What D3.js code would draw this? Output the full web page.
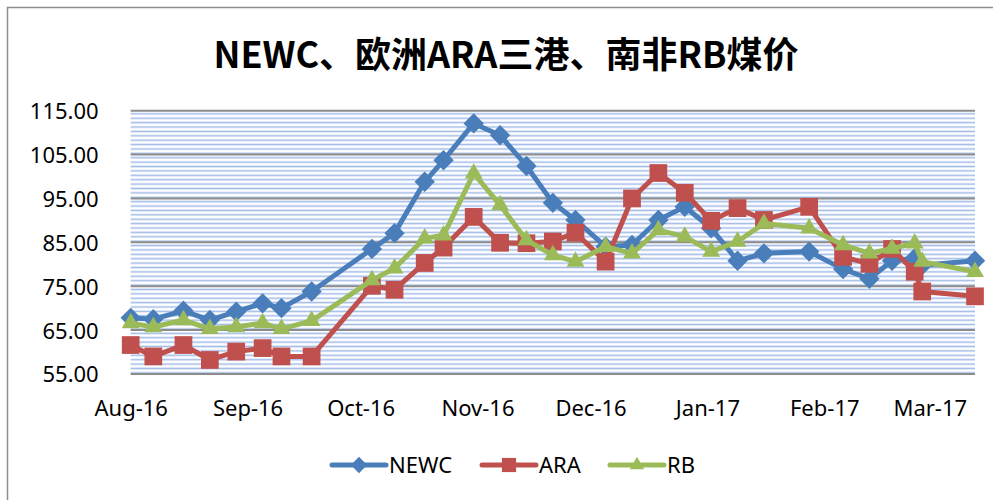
<!DOCTYPE html>
<html lang="zh">
  <head>
    <meta charset="UTF-8" />
    <title>NEWC、欧洲ARA三港、南非RB煤价</title>
    <script src="https://d3js.org/d3.v7.min.js"></script>
    <style>
      body {
        margin: 0;
        background: #fff;
      }
      svg {
        display: block;
      }
      .tick-label,
      .legend-label {
        font-family: "Noto Sans", "Open Sans", sans-serif;
        font-size: 22px;
        fill: #000;
      }
      .title {
        font-family: "Noto Sans CJK SC", sans-serif;
        font-weight: bold;
        font-size: 36px;
        fill: #000;
      }
    </style>
  </head>
  <body>
    <svg width="993" height="500"></svg>
    <script>
      const dates = [
        "2016-08-01", "2016-08-07", "2016-08-15", "2016-08-22", "2016-08-29",
        "2016-09-05", "2016-09-10", "2016-09-18", "2016-10-04", "2016-10-10",
        "2016-10-18", "2016-10-23", "2016-10-31", "2016-11-07", "2016-11-14",
        "2016-11-21", "2016-11-27", "2016-12-05", "2016-12-12", "2016-12-19",
        "2016-12-26", "2017-01-02", "2017-01-09", "2017-01-16", "2017-01-28",
        "2017-02-06", "2017-02-13", "2017-02-19", "2017-02-25", "2017-02-27",
        "2017-03-13"
      ];

      const newc = [
        67.8, 67.5, 69.4, 67.3, 69.2, 71.1, 70.0, 73.8, 83.5, 87.1,
        98.8, 103.7, 112.1, 109.4, 102.4, 94.0, 90.1, 84.0, 84.4, 90.1,
        93.1, 88.2, 80.8, 82.5, 82.9, 78.9, 76.7, 80.8, 81.4, 79.8,
        80.8
      ];
      const ara = [
        61.6, 59.0, 61.6, 58.2, 60.1, 60.9, 59.0, 59.0, 75.1, 74.2,
        80.3, 83.8, 90.8, 84.9, 84.8, 85.2, 87.2, 80.6, 95.0, 100.8,
        96.3, 89.9, 92.8, 90.1, 93.1, 81.7, 80.1, 83.5, 78.3, 73.8,
        72.7
      ];
      const rb = [
        66.6, 65.7, 67.3, 65.3, 65.7, 66.6, 65.3, 67.1, 76.4, 79.1,
        85.9, 86.6, 100.7, 93.5, 85.5, 82.1, 80.6, 84.0, 82.5, 87.8,
        86.3, 82.9, 85.2, 89.3, 88.2, 84.4, 82.5, 83.6, 84.8, 80.6,
        78.3
      ];

      const yTicks = [55, 65, 75, 85, 95, 105, 115];
      const axisStart = "2016-08-01";
      const axisEnd = "2017-03-13";
      const titleText = "NEWC、欧洲ARA三港、南非RB煤价";

      const seriesList = [
        { name: "NEWC", values: newc, color: "#4a7ebb", shape: "diamond" },
        { name: "ARA", values: ara, color: "#c0504d", shape: "square" },
        { name: "RB", values: rb, color: "#9bbb59", shape: "triangle" }
      ];

      const parse = d3.timeParse("%Y-%m-%d");
      const margin = { top: 110.7, right: 18, bottom: 126, left: 130.7 };
      const W = 993, H = 500;
      const width = W - margin.left - margin.right;
      const height = H - margin.top - margin.bottom;

      const svg = d3.select("svg");

      // chart frame (only top/left edges fall inside the picture)
      svg.append("rect")
        .attr("x", 7.5).attr("y", 7.5)
        .attr("width", 995).attr("height", 500)
        .attr("fill", "none")
        .attr("stroke", "#8e8e8e")
        .attr("stroke-width", 1.5);

      // hatch pattern for plot area
      const defs = svg.append("defs");
      const pat = defs.append("pattern")
        .attr("id", "hatch")
        .attr("patternUnits", "userSpaceOnUse")
        .attr("width", 8)
        .attr("height", 4.39)
        .attr("y", margin.top);
      pat.append("rect")
        .attr("x", 0).attr("y", 1.4)
        .attr("width", 8).attr("height", 1.6)
        .attr("fill", "#a3bde8");

      const g = svg.append("g")
        .attr("transform", `translate(${margin.left},${margin.top})`);

      const x = d3.scaleTime()
        .domain([parse(axisStart), parse(axisEnd)])
        .range([0, width]);

      const y = d3.scaleLinear()
        .domain([55, 115])
        .range([height, 0]);

      g.append("rect")
        .attr("width", width)
        .attr("height", height)
        .attr("fill", "url(#hatch)");

      // major gridlines
      g.selectAll(".grid")
        .data(yTicks)
        .enter()
        .append("line")
        .attr("class", "grid")
        .attr("x1", 0).attr("x2", width)
        .attr("y1", (d) => y(d)).attr("y2", (d) => y(d))
        .attr("stroke", "#8c8c8c")
        .attr("stroke-width", 2);

      // y axis labels
      const yAxis = g.append("g")
        .call(d3.axisLeft(y).tickValues(yTicks).tickFormat(d3.format(".2f")).tickSize(0).tickPadding(32));
      yAxis.select(".domain").remove();
      yAxis.selectAll("text")
        .attr("class", "tick-label")
        .attr("dy", "0.36em")
        .attr("font-family", null)
        .attr("font-size", null);

      // x axis labels
      const xAxis = g.append("g")
        .attr("transform", `translate(0,${height})`)
        .call(d3.axisBottom(x).ticks(d3.timeMonth.every(1)).tickFormat(d3.timeFormat("%b-%y")).tickSize(0).tickPadding(26));
      xAxis.select(".domain").remove();
      xAxis.selectAll("text")
        .attr("class", "tick-label")
        .attr("font-family", null)
        .attr("font-size", null);

      function marker(shape, s) {
        if (shape === "diamond") return d3.symbol(d3.symbolDiamond2, s * s * 0.5)();
        if (shape === "square") return d3.symbol(d3.symbolSquare2, s * s)();
        return d3.symbol(d3.symbolTriangle2, s * s * 0.433)();
      }
      const markerSize = { diamond: 23, square: 20, triangle: 23 };

      const line = d3.line()
        .x((d, i) => x(parse(dates[i])))
        .y((d) => y(d));

      seriesList.forEach((s) => {
        const sg = g.append("g");
        sg.append("path")
          .datum(s.values)
          .attr("fill", "none")
          .attr("stroke", s.color)
          .attr("stroke-width", 5)
          .attr("stroke-linejoin", "round")
          .attr("d", line);
        sg.selectAll(".pt")
          .data(s.values)
          .enter()
          .append("path")
          .attr("class", "pt")
          .attr("transform", (d, i) => `translate(${x(parse(dates[i]))},${y(d)})`)
          .attr("d", marker(s.shape, markerSize[s.shape]))
          .attr("fill", s.color);
      });

      // title
      svg.append("text")
        .attr("class", "title")
        .attr("x", 506)
        .attr("y", 68)
        .attr("text-anchor", "middle")
        .text(titleText);

      // legend
      const legendX = [332, 482, 610];
      const legend = svg.append("g");
      seriesList.forEach((s, i) => {
        const lg = legend.append("g")
          .attr("transform", `translate(${legendX[i]},465)`);
        lg.append("line")
          .attr("x1", 0).attr("x2", 54)
          .attr("stroke", s.color)
          .attr("stroke-width", 5)
          .attr("stroke-linecap", "round");
        lg.append("path")
          .attr("transform", "translate(27,0)")
          .attr("d", marker(s.shape, markerSize[s.shape] * 0.8))
          .attr("fill", s.color);
        lg.append("text")
          .attr("class", "legend-label")
          .attr("x", 57)
          .attr("dy", "0.36em")
          .text(s.name);
      });
    </script>
  </body>
</html>
